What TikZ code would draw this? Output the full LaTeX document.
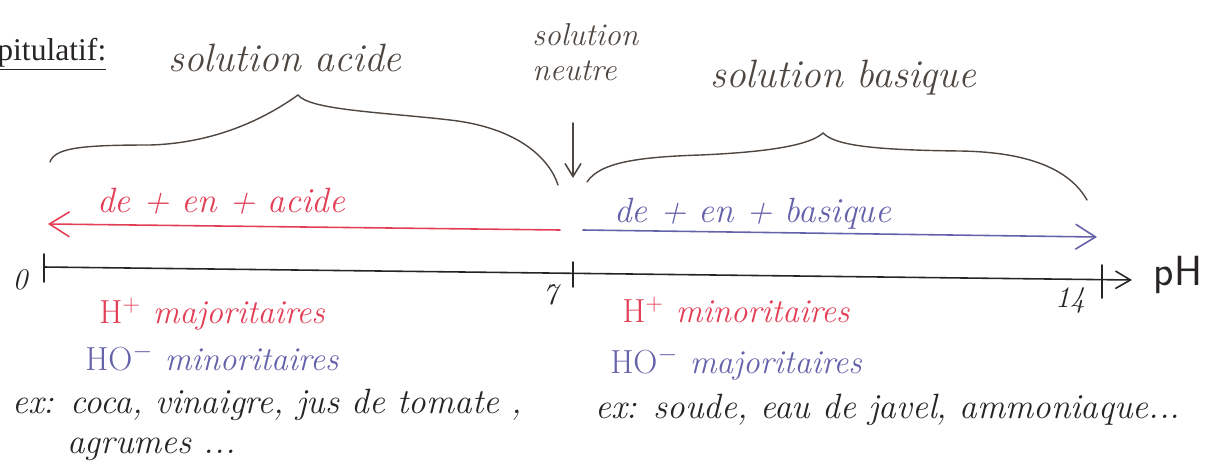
\documentclass[tikz,border=0pt]{standalone}
\usepackage{fontspec}
\newfontfamily\recapfont{Liberation Serif}
\usetikzlibrary{arrows.meta}

\definecolor{redink}{RGB}{226,62,86}
\definecolor{blueink}{RGB}{100,98,170}
\definecolor{pencil}{RGB}{78,70,64}
\definecolor{inkblack}{RGB}{40,36,36}

\begin{document}
\begin{tikzpicture}[x=2cm, y=2cm, line cap=round,
  hand/.style={font=\fontsize{20}{22}\selectfont\itshape, inner sep=0pt, anchor=base west},
  ion/.style={hand, font=\fontsize{19}{21}\selectfont\itshape},
  toplabel/.style={hand, pencil, font=\fontsize{22.5}{24}\selectfont\itshape},
  midlabel/.style={hand, pencil, font=\fontsize{18}{20}\selectfont\itshape},
  brace/.style={pencil, line width=0.8pt},
  ink/.style={line width=0.9pt},
  ticklabel/.style={inkblack, inner sep=0pt, font=\fontsize{17}{19}\selectfont\itshape}]

  \useasboundingbox (0,0) rectangle (12.12,4.64);

  % --- 0. 見出し ---
  \node[anchor=base west, inner sep=0pt, inkblack,
    font=\recapfont\fontsize{18}{20}\selectfont] (recap) at (-0.03,4.04) {\underline{pitulatif:}};

  % --- 1. 上段のラベル ---
  \node[toplabel] (acide) at (1.68,3.93) {solution acide};
  \node[midlabel] (neutre1) at (5.32,4.19) {solution};
  \node[midlabel] (neutre2) at (5.32,3.84) {neutre};
  \node[toplabel] (basique) at (7.10,3.77) {solution basique};

  % --- 2. 波括弧 (手書き風) ---
  \draw[brace] (0.50,3.02) .. controls (0.55,3.16) and (0.80,3.19) .. (1.50,3.19)
    .. controls (2.20,3.21) and (2.70,3.49) .. (2.98,3.69)
    .. controls (3.10,3.54) and (3.80,3.52) .. (4.50,3.44)
    .. controls (5.20,3.36) and (5.50,3.04) .. (5.58,2.79);
  \draw[brace] (5.87,2.82) .. controls (6.00,3.02) and (6.40,3.07) .. (7.00,3.09)
    .. controls (7.70,3.12) and (8.10,3.19) .. (8.23,3.31)
    .. controls (8.35,3.19) and (8.70,3.14) .. (9.60,3.13)
    .. controls (10.30,3.12) and (10.70,2.94) .. (10.87,2.64);

  % --- 3. 中性を示す矢印 ---
  \coordinate (neutretop) at (5.73,3.41);
  \coordinate (neutrebot) at (5.73,2.86);
  \draw[pencil, ink, -{Straight Barb[length=2.6mm,width=3.2mm]}] (neutretop) -- (neutrebot);

  % --- 4. 赤 (酸性) と青 (塩基性) の矢印 ---
  \coordinate (acidstart) at (5.60,2.34);
  \coordinate (acidend) at (0.48,2.40);
  \draw[redink, ink, -{Straight Barb[length=4mm,width=5mm]}] (acidstart) -- (acidend);
  \node[hand, redink] (acidlabel) at (0.97,2.52) {de + en + acide};

  \coordinate (basestart) at (5.83,2.34);
  \coordinate (baseend) at (10.97,2.27);
  \draw[blueink, ink, -{Straight Barb[length=4mm,width=5mm]}] (basestart) -- (baseend);
  \node[hand, blueink] (baselabel) at (6.14,2.42) {de + en + basique};

  % --- 5. pH 軸と目盛り ---
  \coordinate (phstart) at (0.44,1.97);
  \coordinate (phend) at (11.32,1.84);
  \draw[inkblack, ink, -{Straight Barb[length=3mm,width=3.5mm]}] (phstart) -- (phend);
  \draw[inkblack, ink] (0.44,2.10) -- (0.44,1.82);
  \draw[inkblack, ink] (5.73,2.02) -- (5.73,1.77);
  \draw[inkblack, ink] (11.02,1.99) -- (11.02,1.66);
  \node[ticklabel] (zero) at (0.20,1.84) {0};
  \node[ticklabel] (seven) at (5.50,1.69) {7};
  \node[ticklabel] (fourteen) at (10.70,1.64) {14};
  \node[inkblack, inner sep=0pt, font=\fontsize{24}{26}\selectfont\sffamily] (ph) at (11.78,1.89) {pH};

  % --- 6. イオンと例 ---
  \node[ion, redink] (hacide) at (0.99,1.41) {\upshape H\textsuperscript{+}\itshape\ majoritaires};
  \node[ion, blueink] (hoacide) at (0.85,0.94) {\upshape HO\textsuperscript{$-$}\itshape\ minoritaires};
  \node[hand, inkblack] (exacide) at (0.12,0.51) {ex: coca, vinaigre, jus de tomate ,};
  \node[hand, inkblack] (agrumes) at (0.67,0.11) {agrumes ...};

  \node[ion, redink] (hbase) at (6.22,1.42) {\upshape H\textsuperscript{+}\itshape\ minoritaires};
  \node[ion, blueink] (hobase) at (6.10,0.91) {\upshape HO\textsuperscript{$-$}\itshape\ majoritaires};
  \node[hand, inkblack] (exbase) at (5.95,0.46) {ex: soude, eau de javel, ammoniaque...};

\end{tikzpicture}
\end{document}
